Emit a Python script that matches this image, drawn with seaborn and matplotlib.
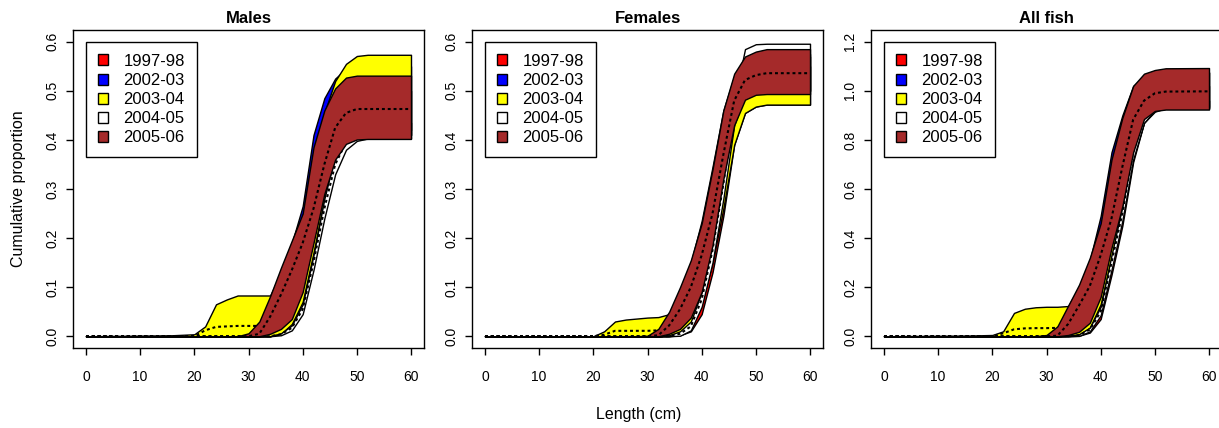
import numpy as np
import seaborn as sns
import matplotlib.pyplot as plt
from matplotlib.patches import Patch

# length grid (cm) shared by every band
LENGTHS = [0, 16, 20, 22, 24, 26, 28, 30, 32, 34, 36, 38, 40, 42, 44, 46, 48, 50, 52, 60]
SEASONS = ['1997-98', '2002-03', '2003-04', '2004-05', '2005-06']
COLOURS = ['red', 'blue', 'yellow', 'white', 'brown']
PANELS = ['Males', 'Females', 'All fish']
Y_MAX = [0.6, 0.6, 1.2]

# ---- Males ----
M9798_LO = [0, 0, 0, 0, 0, 0, 0, 0, 0, 0.005, 0.02, 0.045, 0.1, 0.2, 0.3, 0.37, 0.4, 0.41, 0.41, 0.41]
M9798_MID = [0, 0, 0, 0, 0, 0, 0, 0, 0, 0.01, 0.04, 0.08, 0.14, 0.24, 0.34, 0.41, 0.44, 0.45, 0.45, 0.45]
M9798_HI = [0, 0, 0, 0, 0, 0, 0, 0, 0.002, 0.02, 0.07, 0.12, 0.18, 0.3, 0.4, 0.46, 0.49, 0.5, 0.5, 0.5]
M0203_LO = [0, 0, 0, 0, 0, 0, 0, 0, 0, 0.005, 0.02, 0.05, 0.11, 0.21, 0.31, 0.38, 0.41, 0.42, 0.42, 0.42]
M0203_MID = [0, 0, 0, 0, 0, 0, 0, 0, 0.005, 0.03, 0.07, 0.12, 0.19, 0.31, 0.4, 0.46, 0.48, 0.485, 0.485, 0.485]
M0203_HI = [0, 0, 0, 0, 0, 0, 0, 0.003, 0.02, 0.06, 0.12, 0.19, 0.265, 0.41, 0.485, 0.525, 0.545, 0.55, 0.55, 0.55]
M0304_LO = [0, 0, 0, 0, 0, 0, 0, 0, 0, 0, 0.005, 0.025, 0.07, 0.17, 0.28, 0.37, 0.4, 0.41, 0.41, 0.41]
M0304_MID = [0, 0, 0, 0.012, 0.019, 0.02, 0.021, 0.021, 0.021, 0.05, 0.08, 0.12, 0.18, 0.28, 0.37, 0.45, 0.49, 0.495, 0.495, 0.495]
M0304_HI = [0, 0.002, 0.004, 0.02, 0.065, 0.075, 0.083, 0.083, 0.083, 0.083, 0.13, 0.19, 0.245, 0.375, 0.455, 0.52, 0.555, 0.571, 0.5735, 0.5735]
M0405_LO = [0, 0, 0, 0, 0, 0, 0, 0, 0, 0, 0.002, 0.012, 0.045, 0.135, 0.24, 0.33, 0.38, 0.398, 0.403, 0.403]
M0405_MID = [0, 0, 0, 0, 0, 0, 0, 0, 0, 0, 0.004, 0.017, 0.055, 0.15, 0.26, 0.35, 0.395, 0.414, 0.419, 0.419]
M0405_HI = [0, 0, 0, 0, 0, 0, 0, 0, 0, 0, 0.006, 0.022, 0.065, 0.165, 0.28, 0.37, 0.41, 0.43, 0.435, 0.435]
M0506_LO = [0, 0, 0, 0, 0, 0, 0, 0, 0, 0.005, 0.015, 0.035, 0.09, 0.19, 0.29, 0.36, 0.392, 0.401, 0.402, 0.402]
M0506_MID = [0, 0, 0, 0, 0, 0, 0, 0, 0.005, 0.04, 0.085, 0.135, 0.19, 0.26, 0.35, 0.425, 0.455, 0.463, 0.463, 0.463]
M0506_HI = [0, 0, 0, 0, 0, 0, 0, 0.006, 0.03, 0.082, 0.14, 0.195, 0.25, 0.385, 0.46, 0.505, 0.527, 0.531, 0.531, 0.531]

# ---- Females ----
F9798_LO = [0, 0, 0, 0, 0, 0, 0, 0, 0, 0, 0.002, 0.01, 0.045, 0.13, 0.245, 0.39, 0.455, 0.468, 0.472, 0.472]
F9798_MID = [0, 0, 0, 0, 0, 0, 0, 0, 0, 0, 0.005, 0.02, 0.07, 0.17, 0.3, 0.44, 0.5, 0.51, 0.512, 0.512]
F9798_HI = [0, 0, 0, 0, 0, 0, 0, 0, 0, 0.002, 0.01, 0.035, 0.1, 0.21, 0.35, 0.49, 0.54, 0.55, 0.55, 0.55]
F0203_LO = [0, 0, 0, 0, 0, 0, 0, 0, 0, 0.001, 0.01, 0.04, 0.1, 0.19, 0.33, 0.44, 0.488, 0.5, 0.5, 0.5]
F0203_MID = [0, 0, 0, 0, 0, 0, 0, 0, 0.001, 0.01, 0.05, 0.09, 0.16, 0.26, 0.39, 0.49, 0.53, 0.54, 0.54, 0.54]
F0203_HI = [0, 0, 0, 0, 0, 0, 0, 0, 0.005, 0.03, 0.09, 0.15, 0.235, 0.345, 0.46, 0.53, 0.565, 0.57, 0.57, 0.57]
F0304_LO = [0, 0, 0, 0, 0, 0, 0, 0, 0, 0, 0.005, 0.02, 0.065, 0.15, 0.26, 0.39, 0.455, 0.468, 0.472, 0.472]
F0304_MID = [0, 0, 0, 0.003, 0.011, 0.011, 0.011, 0.011, 0.012, 0.02, 0.05, 0.1, 0.16, 0.25, 0.36, 0.46, 0.5, 0.515, 0.52, 0.52]
F0304_HI = [0, 0, 0, 0.01, 0.03, 0.034, 0.036, 0.038, 0.039, 0.045, 0.09, 0.15, 0.22, 0.33, 0.44, 0.525, 0.56, 0.57, 0.575, 0.575]
F0405_LO = [0, 0, 0, 0, 0, 0, 0, 0, 0, 0, 0.001, 0.012, 0.06, 0.15, 0.28, 0.43, 0.49, 0.5, 0.5, 0.5]
F0405_MID = [0, 0, 0, 0, 0, 0, 0, 0, 0, 0.001, 0.005, 0.02, 0.075, 0.175, 0.31, 0.46, 0.535, 0.545, 0.548, 0.548]
F0405_HI = [0, 0, 0, 0, 0, 0, 0, 0, 0, 0.002, 0.01, 0.03, 0.09, 0.2, 0.33, 0.48, 0.585, 0.595, 0.596, 0.596]
F0506_LO = [0, 0, 0, 0, 0, 0, 0, 0, 0, 0.005, 0.015, 0.038, 0.09, 0.185, 0.32, 0.43, 0.482, 0.492, 0.4935, 0.4935]
F0506_MID = [0, 0, 0, 0, 0, 0, 0, 0, 0.002, 0.022, 0.055, 0.1, 0.165, 0.25, 0.37, 0.48, 0.522, 0.532, 0.536, 0.536]
F0506_HI = [0, 0, 0, 0, 0, 0, 0, 0.001, 0.015, 0.05, 0.1, 0.155, 0.23, 0.34, 0.46, 0.535, 0.57, 0.58, 0.585, 0.585]

# ---- All fish ----
A9798_LO = [0, 0, 0, 0, 0, 0, 0, 0, 0, 0, 0.002, 0.015, 0.07, 0.25, 0.45, 0.71, 0.87, 0.92, 0.93, 0.93]
A9798_MID = [0, 0, 0, 0, 0, 0, 0, 0, 0, 0.002, 0.01, 0.05, 0.13, 0.33, 0.55, 0.8, 0.93, 0.97, 0.98, 0.98]
A9798_HI = [0, 0, 0, 0, 0, 0, 0, 0, 0.001, 0.005, 0.02, 0.09, 0.2, 0.42, 0.64, 0.88, 0.98, 1.01, 1.02, 1.02]
A0203_LO = [0, 0, 0, 0, 0, 0, 0, 0, 0, 0.002, 0.02, 0.07, 0.19, 0.4, 0.6, 0.8, 0.9, 0.93, 0.935, 0.935]
A0203_MID = [0, 0, 0, 0, 0, 0, 0, 0, 0.002, 0.03, 0.1, 0.19, 0.34, 0.57, 0.75, 0.92, 0.99, 1.01, 1.015, 1.015]
A0203_HI = [0, 0, 0, 0, 0, 0, 0, 0.002, 0.02, 0.08, 0.18, 0.31, 0.49, 0.75, 0.9, 1.02, 1.06, 1.07, 1.075, 1.075]
A0304_LO = [0, 0, 0, 0, 0, 0, 0, 0, 0, 0, 0.006, 0.035, 0.13, 0.32, 0.51, 0.73, 0.87, 0.915, 0.93, 0.93]
A0304_MID = [0, 0, 0, 0.012, 0.028, 0.032, 0.033, 0.033, 0.034, 0.06, 0.12, 0.2, 0.3, 0.47, 0.67, 0.85, 0.93, 0.96, 0.965, 0.965]
A0304_HI = [0, 0.003, 0.005, 0.02, 0.095, 0.112, 0.118, 0.12, 0.12, 0.123, 0.2, 0.31, 0.44, 0.7, 0.88, 1.0, 1.05, 1.07, 1.075, 1.075]
A0405_LO = [0, 0, 0, 0, 0, 0, 0, 0, 0, 0, 0.001, 0.02, 0.085, 0.27, 0.47, 0.72, 0.87, 0.92, 0.926, 0.926]
A0405_MID = [0, 0, 0, 0, 0, 0, 0, 0, 0, 0.001, 0.004, 0.027, 0.1, 0.3, 0.5, 0.75, 0.89, 0.935, 0.943, 0.943]
A0405_HI = [0, 0, 0, 0, 0, 0, 0, 0, 0, 0.002, 0.008, 0.035, 0.12, 0.33, 0.53, 0.78, 0.91, 0.95, 0.96, 0.96]
A0506_LO = [0, 0, 0, 0, 0, 0, 0, 0, 0, 0.005, 0.018, 0.055, 0.16, 0.36, 0.53, 0.75, 0.885, 0.918, 0.924, 0.924]
A0506_MID = [0, 0, 0, 0, 0, 0, 0, 0, 0.002, 0.05, 0.125, 0.205, 0.33, 0.48, 0.69, 0.883, 0.96, 0.99, 0.997, 0.998]
A0506_HI = [0, 0, 0, 0, 0, 0, 0, 0.005, 0.04, 0.125, 0.21, 0.32, 0.46, 0.72, 0.89, 1.02, 1.07, 1.085, 1.092, 1.093]

bands = {
    'Males': [(M9798_LO, M9798_MID, M9798_HI), (M0203_LO, M0203_MID, M0203_HI),
              (M0304_LO, M0304_MID, M0304_HI), (M0405_LO, M0405_MID, M0405_HI),
              (M0506_LO, M0506_MID, M0506_HI)],
    'Females': [(F9798_LO, F9798_MID, F9798_HI), (F0203_LO, F0203_MID, F0203_HI),
                (F0304_LO, F0304_MID, F0304_HI), (F0405_LO, F0405_MID, F0405_HI),
                (F0506_LO, F0506_MID, F0506_HI)],
    'All fish': [(A9798_LO, A9798_MID, A9798_HI), (A0203_LO, A0203_MID, A0203_HI),
                 (A0304_LO, A0304_MID, A0304_HI), (A0405_LO, A0405_MID, A0405_HI),
                 (A0506_LO, A0506_MID, A0506_HI)],
}

sns.set_style('ticks')
plt.rcParams['font.family'] = ['Liberation Sans', 'DejaVu Sans']
for key in ['text.color', 'axes.labelcolor', 'xtick.color', 'ytick.color', 'axes.edgecolor']:
    plt.rcParams[key] = 'black'

fig = plt.figure(figsize=(12.19, 4.28), dpi=100)
W, H = 1219, 428
lefts = [73, 472, 871]

for i, panel in enumerate(PANELS):
    ax = fig.add_axes([lefts[i] / W, 1 - 348 / H, 351 / W, 318 / H])
    # each season: band then its dotted middle line, stacked in order
    for k, ((lo, mid, hi), col) in enumerate(zip(bands[panel], COLOURS)):
        ax.fill_between(LENGTHS, lo, hi, facecolor=col, edgecolor='black',
                        linewidth=1.0, zorder=2 * k + 1)
        sns.lineplot(x=LENGTHS, y=mid, ax=ax, color='black', linewidth=1.5,
                     linestyle=(0, (1.4, 1.4)), legend=False, zorder=2 * k + 2)

    ymax = Y_MAX[i]
    ax.set_xlim(-2.4, 62.4)
    ax.set_ylim(-0.04 * ymax, 1.04 * ymax)
    ax.set_xticks(range(0, 61, 10))
    yt = np.linspace(0, ymax, 7)
    ax.set_yticks(yt)
    ax.set_yticklabels([f'{v:.1f}' for v in yt], rotation=90, va='center')
    ax.tick_params(axis='x', length=5, width=1, pad=11, labelsize=10)
    ax.tick_params(axis='y', length=5, width=1, pad=5, labelsize=10)
    for sp in ax.spines.values():
        sp.set_linewidth(1.0)
    ax.set_xlabel('')
    ax.set_ylabel('')
    ax.set_title(panel, fontsize=12, fontweight='bold', pad=5)

    handles = [Patch(facecolor=c, edgecolor='black', linewidth=1.0) for c in COLOURS]
    leg = ax.legend(handles, SEASONS, loc='upper left', bbox_to_anchor=(0.037, 0.962),
                    borderaxespad=0, frameon=True, fancybox=False, edgecolor='black',
                    framealpha=1, fontsize=12, handlelength=0.65, handleheight=0.65,
                    handletextpad=0.9, labelspacing=0.25, borderpad=0.7)
    leg.get_frame().set_linewidth(1.0)
    leg.set_zorder(20)

fig.text(0.015, 1 - 189 / H, 'Cumulative proportion', rotation=90, ha='center', va='center', fontsize=11.5)
fig.text(639 / W, 1 - 414 / H, 'Length (cm)', ha='center', va='center', fontsize=11.5)

fig.savefig('out.png', dpi=100)
